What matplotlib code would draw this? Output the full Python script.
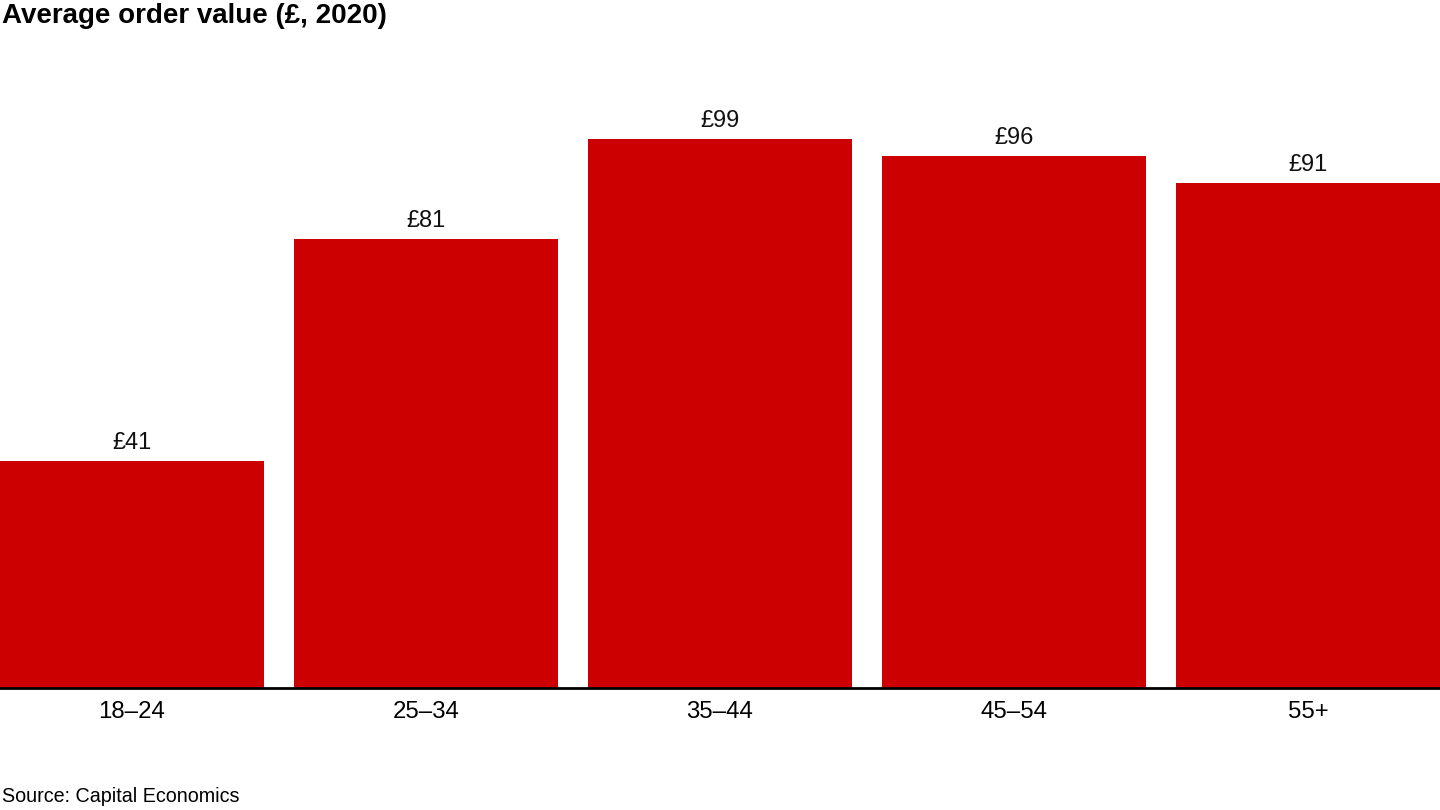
import numpy as np
import matplotlib.pyplot as plt

plt.rcParams['font.family'] = ['Liberation Sans', 'DejaVu Sans']

age_groups = ['18–24', '25–34', '35–44', '45–54', '55+']
order_values = [41, 81, 99, 96, 91]
bar_color = '#CC0000'

W, H = 1440, 810
fig = plt.figure(figsize=(W / 100, H / 100), dpi=100)

# axes: full width, baseline at 688px from top
base_px = 688
px_per_unit = 5.545
ymax = 110
ax = fig.add_axes([0, (H - base_px) / H, 1, ymax * px_per_unit / H])

x = np.arange(len(age_groups))
width = 0.898
bars = ax.bar(x, order_values, width=width, color=bar_color, zorder=2)
ax.set_xlim(-width / 2, len(age_groups) - 1 + width / 2)
ax.set_ylim(0, ymax)

for xi, v in zip(x, order_values):
    ax.annotate(f'£{v}', (xi, v), xytext=(0, 5), textcoords='offset points',
                ha='center', va='bottom', fontsize=17, color='#111111')

ax.axhline(0, color='black', lw=2, zorder=3, clip_on=False)
for s in ax.spines.values():
    s.set_visible(False)
ax.set_yticks([])
ax.set_xticks(x)
ax.set_xticklabels(age_groups, fontsize=17.3)
ax.tick_params(axis='x', length=0, pad=9)

fig.text(2 / W, 1 - 3 / H, 'Average order value (£, 2020)', fontsize=20,
         fontweight='bold', ha='left', va='top')
fig.text(2 / W, 1 - 806 / H, 'Source: Capital Economics', fontsize=14.2,
         ha='left', va='bottom')

fig.savefig('out.png', dpi=100)
